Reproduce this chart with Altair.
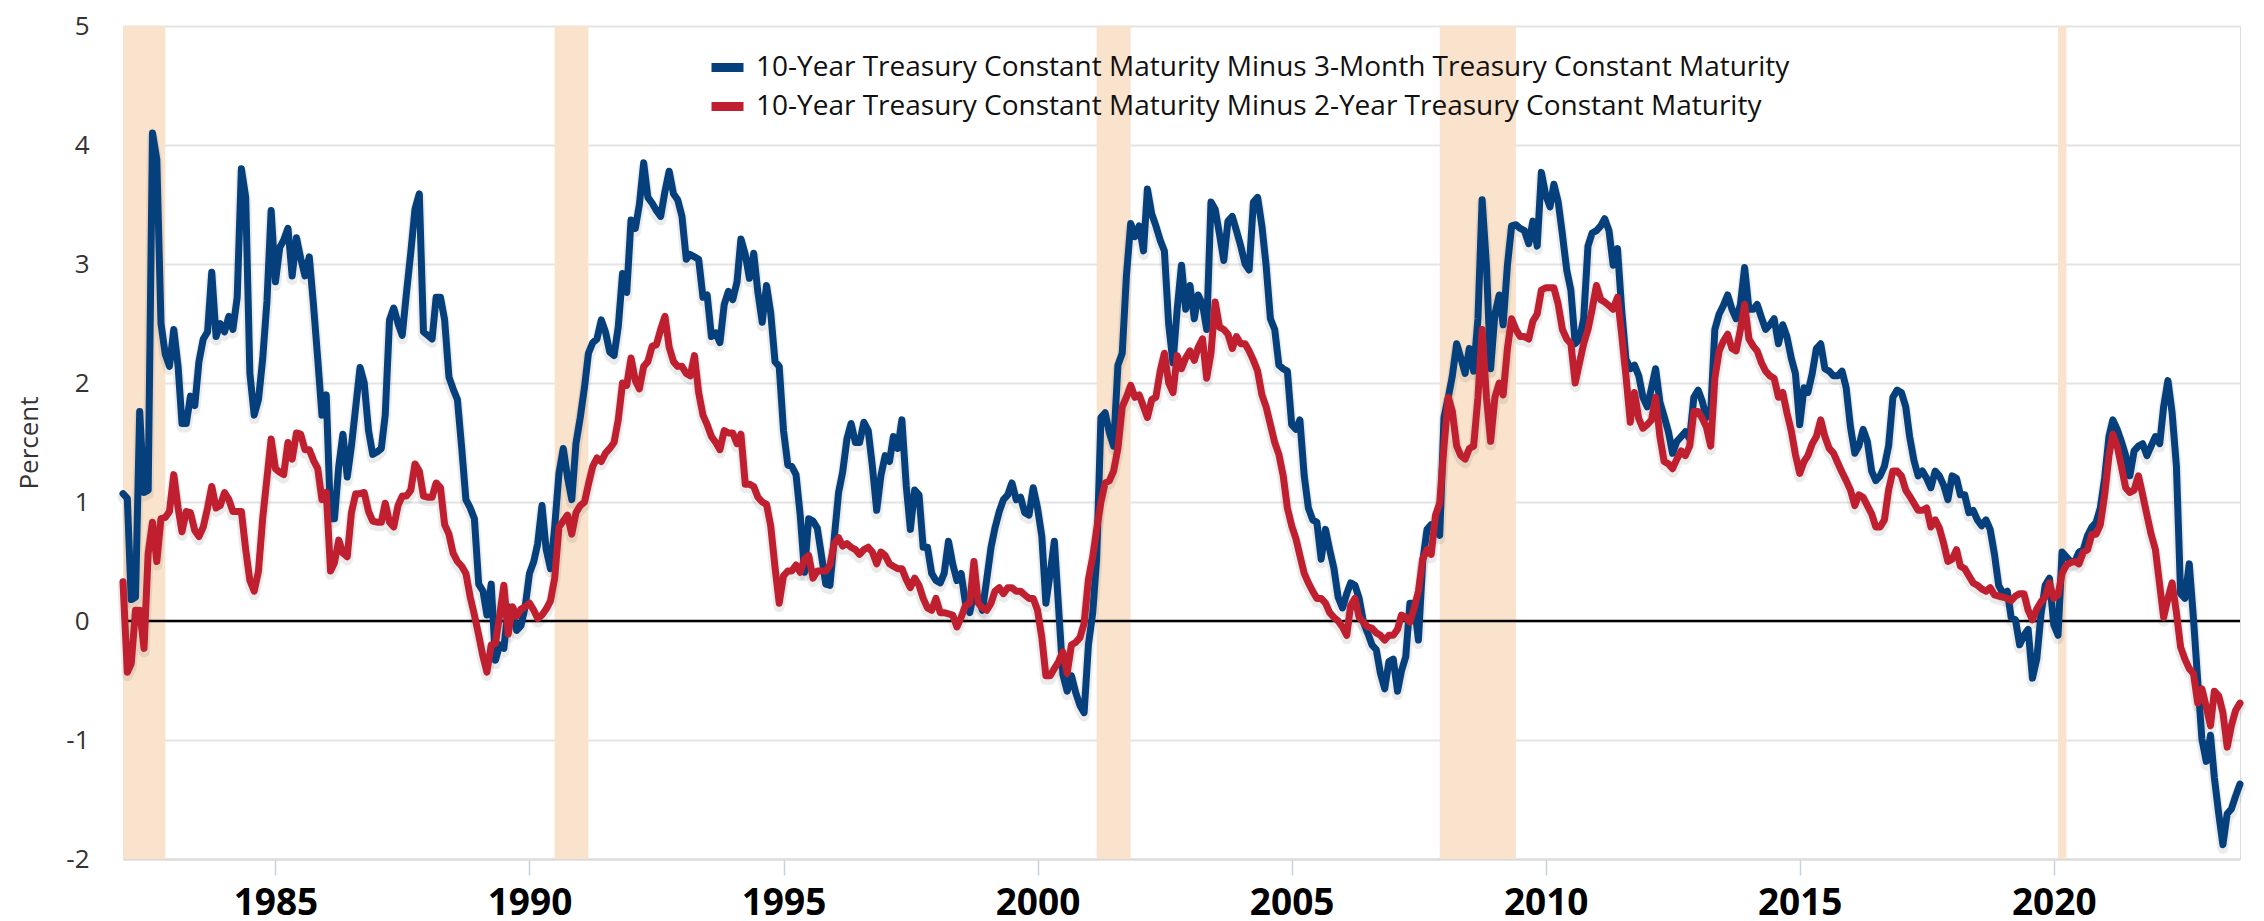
import altair as alt
import pandas as pd

SERIES_3M = "10-Year Treasury Constant Maturity Minus 3-Month Treasury Constant Maturity"
SERIES_2Y = "10-Year Treasury Constant Maturity Minus 2-Year Treasury Constant Maturity"

FIRST_MONTH = "1982-01-01"   # monthly observations, Jan 1982 .. Sep 2023

# 10Y minus 3M (percent), one row per year Jan..Dec
t10y3m = [
    1.07, 1.03, 0.18, 0.20, 1.76, 1.08, 1.10, 4.10, 3.88, 2.50, 2.24, 2.14,   # 1982
    2.45, 2.14, 1.66, 1.66, 1.89, 1.81, 2.18, 2.37, 2.43, 2.93, 2.39, 2.50,   # 1983
    2.43, 2.56, 2.45, 2.72, 3.80, 3.56, 2.08, 1.73, 1.86, 2.20, 2.69, 3.45,   # 1984
    2.85, 3.14, 3.20, 3.30, 2.90, 3.22, 3.05, 2.90, 3.06, 2.66, 2.20, 1.73,   # 1985
    1.90, 0.86, 0.86, 1.30, 1.57, 1.21, 1.47, 1.80, 2.13, 2.00, 1.60, 1.40,   # 1986
    1.42, 1.45, 1.73, 2.53, 2.63, 2.50, 2.40, 2.76, 3.10, 3.46, 3.59, 2.43,   # 1987
    2.40, 2.37, 2.72, 2.72, 2.53, 2.05, 1.95, 1.86, 1.45, 1.02, 0.95, 0.86,   # 1988
    0.31, 0.25, 0.05, 0.31, -0.33, -0.20, -0.23, 0.12, 0.08, -0.08, -0.04, 0.12,  # 1989
    0.40, 0.50, 0.65, 0.97, 0.60, 0.44, 0.79, 1.24, 1.45, 1.21, 1.02, 1.49,   # 1990
    1.71, 1.97, 2.25, 2.34, 2.37, 2.53, 2.43, 2.26, 2.23, 2.47, 2.92, 2.76,   # 1991
    3.37, 3.30, 3.50, 3.85, 3.56, 3.51, 3.45, 3.40, 3.61, 3.78, 3.59, 3.54,   # 1992
    3.40, 3.04, 3.08, 3.06, 3.04, 2.72, 2.74, 2.39, 2.42, 2.34, 2.66, 2.77,   # 1993
    2.70, 2.85, 3.21, 3.08, 2.88, 3.09, 2.76, 2.51, 2.82, 2.59, 2.18, 2.14,   # 1994
    1.60, 1.31, 1.30, 1.23, 0.89, 0.41, 0.86, 0.84, 0.78, 0.55, 0.31, 0.30,   # 1995
    0.70, 1.08, 1.25, 1.53, 1.66, 1.50, 1.50, 1.67, 1.60, 1.30, 0.93, 1.22,   # 1996
    1.39, 1.34, 1.55, 1.45, 1.69, 1.14, 0.77, 1.10, 1.06, 0.62, 0.62, 0.40,   # 1997
    0.34, 0.32, 0.40, 0.67, 0.48, 0.34, 0.40, 0.15, 0.07, 0.25, 0.19, 0.09,   # 1998
    0.35, 0.62, 0.78, 0.92, 1.02, 1.06, 1.16, 1.02, 1.04, 0.91, 0.89, 1.12,   # 1999
    0.95, 0.71, 0.15, 0.40, 0.67, 0.10, -0.45, -0.59, -0.46, -0.60, -0.71, -0.77,  # 2000
    -0.20, 0.07, 0.52, 1.71, 1.75, 1.58, 1.47, 2.15, 2.25, 2.90, 3.34, 3.23,  # 2001
    3.32, 3.11, 3.63, 3.42, 3.32, 3.20, 3.11, 2.49, 2.17, 2.62, 2.99, 2.62,   # 2002
    2.82, 2.54, 2.74, 2.66, 2.45, 3.52, 3.46, 3.25, 3.03, 3.36, 3.40, 3.28,   # 2003
    3.15, 3.00, 2.95, 3.52, 3.56, 3.32, 2.99, 2.54, 2.45, 2.15, 2.12, 2.10,   # 2004
    1.65, 1.61, 1.69, 1.22, 0.95, 0.85, 0.83, 0.52, 0.77, 0.60, 0.44, 0.20,   # 2005
    0.11, 0.23, 0.32, 0.30, 0.19, -0.01, -0.10, -0.20, -0.24, -0.44, -0.57, -0.34,  # 2006
    -0.32, -0.59, -0.42, -0.30, 0.15, 0.15, -0.16, 0.50, 0.77, 0.81, 0.78, 0.72,   # 2007
    1.71, 1.88, 2.06, 2.33, 2.21, 2.08, 2.29, 2.10, 2.54, 3.54, 2.99, 2.12,   # 2008
    2.58, 2.74, 2.49, 2.99, 3.32, 3.33, 3.30, 3.28, 3.17, 3.36, 3.15, 3.77,   # 2009
    3.58, 3.48, 3.67, 3.52, 3.25, 2.95, 2.78, 2.33, 2.37, 2.54, 3.15, 3.26,   # 2010
    3.28, 3.32, 3.38, 3.28, 2.99, 3.13, 2.62, 2.20, 2.12, 2.15, 2.06, 1.88,   # 2011
    1.80, 1.96, 2.12, 1.84, 1.72, 1.59, 1.41, 1.51, 1.55, 1.59, 1.53, 1.88,   # 2012
    1.94, 1.84, 1.71, 1.75, 2.45, 2.58, 2.65, 2.74, 2.62, 2.54, 2.66, 2.97,   # 2013
    2.62, 2.62, 2.66, 2.55, 2.45, 2.49, 2.54, 2.33, 2.49, 2.39, 2.21, 2.08,   # 2014
    1.65, 1.96, 1.92, 2.08, 2.29, 2.33, 2.12, 2.10, 2.06, 2.06, 2.10, 1.96,   # 2015
    1.63, 1.41, 1.47, 1.61, 1.51, 1.26, 1.18, 1.22, 1.30, 1.47, 1.88, 1.94,   # 2016
    1.92, 1.80, 1.55, 1.35, 1.22, 1.26, 1.20, 1.12, 1.26, 1.22, 1.14, 1.02,   # 2017
    1.22, 1.20, 1.06, 1.06, 0.91, 0.93, 0.85, 0.80, 0.85, 0.77, 0.56, 0.30,   # 2018
    0.23, 0.25, 0.03, 0.01, -0.20, -0.12, -0.07, -0.48, -0.32, 0.05, 0.30, 0.36,  # 2019
    -0.03, -0.12, 0.58, 0.54, 0.50, 0.50, 0.58, 0.60, 0.72, 0.79, 0.83, 0.95,  # 2020
    1.20, 1.55, 1.69, 1.61, 1.51, 1.39, 1.22, 1.43, 1.47, 1.49, 1.39, 1.47,   # 2021
    1.55, 1.49, 1.80, 2.02, 1.75, 1.30, 0.23, 0.19, 0.48, 0.03, -0.50, -0.99,  # 2022
    -1.18, -0.96, -1.32, -1.62, -1.88, -1.62, -1.58, -1.47, -1.37,            # 2023 Jan-Sep
]

# 10Y minus 2Y (percent)
t10y2y = [
    0.33, -0.43, -0.36, 0.09, 0.09, -0.23, 0.57, 0.83, 0.50, 0.86, 0.87, 0.92,   # 1982
    1.23, 0.95, 0.75, 0.92, 0.91, 0.76, 0.71, 0.79, 0.95, 1.13, 0.95, 0.97,   # 1983
    1.08, 1.02, 0.92, 0.92, 0.92, 0.60, 0.34, 0.25, 0.42, 0.86, 1.20, 1.53,   # 1984
    1.28, 1.25, 1.23, 1.50, 1.36, 1.58, 1.57, 1.44, 1.44, 1.35, 1.28, 1.02,   # 1985
    1.08, 0.42, 0.49, 0.68, 0.57, 0.54, 0.91, 1.07, 1.07, 1.08, 0.92, 0.84,   # 1986
    0.83, 0.83, 0.99, 0.83, 0.79, 0.97, 1.05, 1.05, 1.10, 1.32, 1.26, 1.05,   # 1987
    1.04, 1.04, 1.16, 1.12, 0.81, 0.73, 0.57, 0.50, 0.46, 0.40, 0.20, 0.05,   # 1988
    -0.12, -0.30, -0.43, -0.20, -0.19, 0.05, 0.30, -0.11, 0.12, 0.04, 0.10, 0.12,  # 1989
    0.15, 0.09, 0.02, 0.05, 0.10, 0.17, 0.36, 0.79, 0.84, 0.89, 0.73, 0.91,   # 1990
    0.97, 1.00, 1.15, 1.30, 1.37, 1.34, 1.41, 1.45, 1.50, 1.69, 2.00, 1.98,   # 1991
    2.21, 2.02, 1.95, 2.14, 2.18, 2.31, 2.32, 2.45, 2.56, 2.30, 2.18, 2.14,   # 1992
    2.14, 2.08, 2.06, 2.23, 1.92, 1.73, 1.65, 1.55, 1.50, 1.44, 1.60, 1.58,   # 1993
    1.58, 1.49, 1.57, 1.15, 1.15, 1.13, 1.04, 1.00, 0.98, 0.80, 0.45, 0.15,   # 1994
    0.38, 0.42, 0.42, 0.47, 0.41, 0.52, 0.55, 0.36, 0.42, 0.42, 0.42, 0.47,   # 1995
    0.65, 0.70, 0.63, 0.65, 0.62, 0.60, 0.56, 0.60, 0.62, 0.58, 0.48, 0.58,   # 1996
    0.55, 0.48, 0.46, 0.44, 0.44, 0.35, 0.28, 0.36, 0.30, 0.19, 0.11, 0.09,   # 1997
    0.19, 0.07, 0.07, 0.06, 0.05, -0.05, 0.03, 0.13, 0.15, 0.50, 0.15, 0.11,  # 1998
    0.09, 0.15, 0.25, 0.28, 0.23, 0.28, 0.28, 0.25, 0.25, 0.22, 0.19, 0.19,   # 1999
    0.09, -0.14, -0.46, -0.46, -0.40, -0.34, -0.26, -0.44, -0.20, -0.18, -0.14, -0.02,  # 2000
    0.35, 0.54, 0.77, 1.00, 1.16, 1.18, 1.26, 1.45, 1.80, 1.88, 1.98, 1.88,   # 2001
    1.90, 1.80, 1.71, 1.86, 1.88, 2.10, 2.25, 2.00, 1.92, 2.23, 2.12, 2.21,   # 2002
    2.27, 2.19, 2.30, 2.37, 2.04, 2.25, 2.68, 2.47, 2.45, 2.41, 2.29, 2.39,   # 2003
    2.33, 2.33, 2.27, 2.19, 2.10, 1.90, 1.80, 1.65, 1.50, 1.40, 1.22, 0.95,   # 2004
    0.80, 0.69, 0.55, 0.40, 0.32, 0.25, 0.19, 0.19, 0.15, 0.07, 0.03, 0.00,   # 2005
    -0.05, -0.12, 0.13, 0.19, 0.03, -0.01, -0.05, -0.06, -0.10, -0.12, -0.16, -0.12,  # 2006
    -0.12, -0.07, 0.05, 0.03, -0.01, 0.11, 0.25, 0.52, 0.60, 0.56, 0.89, 0.99,  # 2007
    1.47, 1.88, 1.76, 1.47, 1.39, 1.36, 1.45, 1.47, 1.88, 2.45, 1.88, 1.51,   # 2008
    1.88, 2.00, 1.90, 2.29, 2.54, 2.45, 2.39, 2.39, 2.37, 2.52, 2.58, 2.78,   # 2009
    2.80, 2.80, 2.80, 2.66, 2.45, 2.37, 2.33, 2.00, 2.17, 2.33, 2.45, 2.62,   # 2010
    2.82, 2.70, 2.68, 2.65, 2.62, 2.72, 2.41, 2.06, 1.67, 1.92, 1.70, 1.62,   # 2011
    1.65, 1.69, 1.88, 1.55, 1.34, 1.32, 1.28, 1.36, 1.43, 1.39, 1.47, 1.76,   # 2012
    1.76, 1.70, 1.63, 1.47, 2.04, 2.27, 2.35, 2.41, 2.29, 2.27, 2.45, 2.66,   # 2013
    2.37, 2.31, 2.27, 2.17, 2.10, 2.06, 2.04, 1.88, 1.92, 1.75, 1.60, 1.40,   # 2014
    1.24, 1.34, 1.39, 1.49, 1.55, 1.69, 1.55, 1.45, 1.41, 1.33, 1.25, 1.18,   # 2015
    1.10, 0.97, 1.06, 1.04, 0.97, 0.90, 0.79, 0.79, 0.85, 1.10, 1.26, 1.26,   # 2016
    1.22, 1.10, 1.05, 0.99, 0.93, 0.93, 0.95, 0.79, 0.85, 0.78, 0.65, 0.50,   # 2017
    0.52, 0.60, 0.46, 0.44, 0.38, 0.32, 0.30, 0.27, 0.25, 0.28, 0.22, 0.21,   # 2018
    0.20, 0.19, 0.17, 0.21, 0.23, 0.23, 0.09, 0.01, 0.10, 0.16, 0.20, 0.32,   # 2019
    0.19, 0.22, 0.40, 0.47, 0.49, 0.50, 0.48, 0.58, 0.60, 0.73, 0.73, 0.81,   # 2020
    1.06, 1.39, 1.57, 1.47, 1.30, 1.12, 1.08, 1.10, 1.22, 1.06, 0.89, 0.73,   # 2021
    0.60, 0.30, 0.03, 0.19, 0.32, 0.07, -0.22, -0.32, -0.40, -0.44, -0.69, -0.57,  # 2022
    -0.72, -0.88, -0.59, -0.63, -0.77, -1.06, -0.88, -0.75, -0.69,            # 2023 Jan-Sep
]

recession_start = ["1981-07-01", "1990-07-01", "2001-03-01", "2007-12-01", "2020-02-01"]
recession_end = ["1982-11-01", "1991-03-01", "2001-11-01", "2009-06-01", "2020-04-01"]

tick_years = [1985, 1990, 1995, 2000, 2005, 2010, 2015, 2020]
y_ticks = [-2, -1, 0, 1, 2, 3, 4, 5]

BLUE = "#053f7c"
RED = "#bf1f2f"
SHADE = "#fae3cd"
FONT = "Open Sans"

# ---- tables built from the arrays ----
dates = pd.date_range(FIRST_MONTH, periods=len(t10y3m), freq="MS")
lines = pd.DataFrame({
    "date": list(dates) + list(dates),
    "value": t10y3m + t10y2y,
    "series": [SERIES_3M] * len(t10y3m) + [SERIES_2Y] * len(t10y2y),
})
recessions = pd.DataFrame({
    "start": pd.to_datetime(recession_start),
    "end": pd.to_datetime(recession_end),
})
zero = pd.DataFrame({"value": [0]})

W, H = 2117, 833

x_scale = alt.Scale(domain=[alt.DateTime(year=1982, month=1, date=1),
                            alt.DateTime(year=2023, month=9, date=1)])
y_scale = alt.Scale(domain=[-2, 5], nice=False, zero=False)

x_axis = alt.Axis(
    values=[alt.DateTime(year=y, month=1, date=1) for y in tick_years],
    format="%Y", title=None, grid=False,
    domain=True, domainColor="#dadada", domainWidth=2,
    ticks=True, tickColor="#c7d1e4", tickSize=16, tickWidth=1.5,
    labelFont=FONT, labelFontSize=37, labelFontWeight="bold",
    labelColor="#000000", labelPadding=10,
)
y_axis = alt.Axis(
    values=y_ticks, title="Percent", grid=True, gridColor="#e4e4e4", gridWidth=2,
    domain=False, ticks=False, tickSize=0,
    labelExpr="'' + datum.value",
    labelFont=FONT, labelFontSize=26, labelColor="#333333", labelPadding=34,
    titleFont=FONT, titleFontSize=26, titleFontWeight="normal", titleColor="#333333",
    titleAngle=270, titleX=-86, titleY=H / 2, titleAlign="center",
    titleBaseline="alphabetic",
)

rec = alt.Chart(recessions).mark_rect(color=SHADE, clip=True).encode(
    x=alt.X("start:T", scale=x_scale, axis=x_axis),
    x2="end:T",
)

zero_rule = alt.Chart(zero).mark_rule(color="#000000", strokeWidth=2.5).encode(
    y=alt.Y("value:Q", scale=y_scale, axis=y_axis)
)

shadow = alt.Chart(lines).transform_calculate(
    shifted="datum.value - 0.03"
).mark_line(strokeWidth=11, strokeCap="round", strokeJoin="round",
            color="#000000", opacity=0.08).encode(
    x=alt.X("date:T", scale=x_scale, axis=x_axis),
    y=alt.Y("shifted:Q", scale=y_scale, axis=y_axis),
    detail="series:N",
)

legend = alt.Legend(
    title=None, orient="none", legendX=584, legendY=21, direction="vertical",
    symbolType="stroke", symbolStrokeWidth=9, symbolSize=1024,
    labelFont=FONT, labelFontSize=28, labelColor="#111111", labelLimit=1500,
    rowPadding=-9, padding=0, labelOffset=8,
)

series_lines = alt.Chart(lines).mark_line(
    strokeWidth=7, strokeCap="round", strokeJoin="round"
).encode(
    x=alt.X("date:T", scale=x_scale, axis=x_axis),
    y=alt.Y("value:Q", scale=y_scale, axis=y_axis),
    color=alt.Color("series:N",
                    scale=alt.Scale(domain=[SERIES_3M, SERIES_2Y], range=[BLUE, RED]),
                    legend=legend),
)

chart = alt.layer(rec, zero_rule, shadow, series_lines).properties(
    width=W, height=H,
    padding={"left": 115, "top": 18, "right": 16, "bottom": 70},
    autosize=alt.AutoSizeParams(type="none"),
).configure_view(stroke=None).configure(background="white", font=FONT)

chart.save("out.html", embed_options={"renderer": "svg", "actions": False})
